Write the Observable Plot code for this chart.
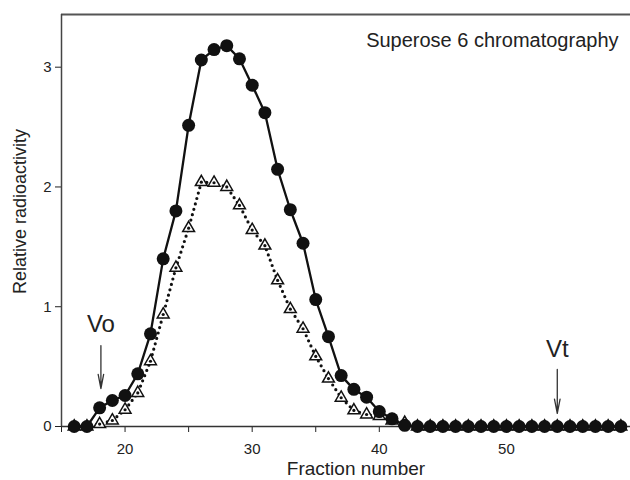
<!DOCTYPE html>
<html>
<head>
<meta charset="utf-8">
<script src="https://cdn.jsdelivr.net/npm/d3@7"></script>
<script src="https://cdn.jsdelivr.net/npm/@observablehq/plot@0.6"></script>
<style>
  html, body { margin: 0; padding: 0; background: #fff; }
  #chart { width: 630px; height: 480px; }
</style>
</head>
<body>
<div id="chart"></div>
<script>
// Fraction numbers
const fractions = [16,17,18,19,20,21,22,23,24,25,26,27,28,29,30,31,32,33,34,35,36,37,38,39,40,41,42,43,44,45,46,47,48,49,50,51,52,53,54,55,56,57,58,59];
// Filled circles (solid line)
const circleValues = [0,0,0.156,0.217,0.259,0.44,0.774,1.40,1.80,2.515,3.06,3.147,3.18,3.07,2.85,2.62,2.147,1.81,1.53,1.06,0.75,0.425,0.31,0.245,0.125,0.064,0.01,0,0,0,0,0,0,0,0,0,0,0,0,0,0,0,0,0];
// Open triangles (dotted line)
const triangleValues = [0,0,0.02,0.05,0.14,0.28,0.545,0.935,1.325,1.656,2.04,2.035,2.0,1.846,1.64,1.51,1.22,0.98,0.816,0.585,0.40,0.24,0.134,0.10,0.086,0.05,0.03,0,0,0,0,0,0,0,0,0,0,0,0,0,0,0,0,0];
// Axis ticks
const xTicks = [15,20,25,30,35,40,45,50,55];
const xTickLabels = ["", "20", "", "30", "", "40", "", "50", ""];
const yTicks = [0,1,2,3];
const yTickLabels = ["0", "1", "2", "3"];
// Annotations: volume markers
const markerLabels = ["Vo", "Vt"];
const markerFractions = [18.1, 54];
const markerTextY = [0.85, 0.647];
const markerArrowTop = [0.676, 0.476];
const markerArrowBottom = [0.317, 0.109];
const titleText = "Superose 6 chromatography";
const xLabel = "Fraction number";
const yLabel = "Relative radioactivity";

const circles = fractions.map((f, i) => ({x: f, y: circleValues[i]}));
const triangles = fractions.map((f, i) => ({x: f, y: triangleValues[i]}));
const markers = markerLabels.map((t, i) => ({
  label: t, x: markerFractions[i], ty: markerTextY[i], y1: markerArrowTop[i], y2: markerArrowBottom[i]
}));

const font = "Liberation Sans, Arial, Helvetica, sans-serif";

const chart = Plot.plot({
  width: 630,
  height: 480,
  marginLeft: 61,
  marginRight: 0,
  marginTop: 14,
  marginBottom: 54,
  style: {fontFamily: font, fontSize: "15px", color: "#222", background: "#fff"},
  x: {
    domain: [15, 59.76],
    ticks: xTicks,
    tickFormat: d => xTickLabels[xTicks.indexOf(d)],
    tickSize: 6,
    tickPadding: 11,
    label: null
  },
  y: {
    domain: [0, 3.44],
    ticks: yTicks,
    tickFormat: d => yTickLabels[yTicks.indexOf(d)],
    tickSize: 6,
    tickPadding: 4,
    label: null
  },
  marks: [
    Plot.ruleY([3.44], {stroke: "#555", strokeWidth: 2}),
    Plot.ruleX([15], {stroke: "#444", strokeWidth: 1.5}),
    Plot.ruleY([0], {stroke: "#333", strokeWidth: 1.5}),
    // triangles series
    Plot.line(triangles, {x: "x", y: "y", stroke: "#111", strokeWidth: 3.2, strokeDasharray: "0,5.6", strokeLinecap: "round"}),
    Plot.dot(triangles, {x: "x", y: "y", symbol: "triangle", r: 4.4, fill: "white", stroke: "#111", strokeWidth: 1.5}),
    Plot.dot(triangles, {x: "x", y: "y", r: 1.6, fill: "#111", stroke: null}),
    // circles series
    Plot.line(circles, {x: "x", y: "y", stroke: "#111", strokeWidth: 2.3}),
    Plot.dot(circles, {x: "x", y: "y", r: 6.5, fill: "#111", stroke: null}),
    // markers
    Plot.arrow(markers, {x1: "x", x2: "x", y1: "y1", y2: "y2", stroke: "#333", strokeWidth: 1.3, headLength: 20, headAngle: 22}),
    Plot.text(markers, {x: "x", y: "ty", text: "label", fontSize: 24, fill: "#222"}),
    // title
    Plot.text([titleText], {frameAnchor: "top-right", textAnchor: "end", lineAnchor: "middle", dx: -12, dy: 26, fontSize: 20, fill: "#222"}),
    // axis labels
    Plot.text([xLabel], {frameAnchor: "bottom", textAnchor: "middle", lineAnchor: "middle", dx: 10, dy: 42, fontSize: 19, fill: "#222"}),
    Plot.text([yLabel], {frameAnchor: "left", textAnchor: "middle", lineAnchor: "middle", rotate: -90, dx: -41, dy: -9, fontSize: 18, fill: "#222"})
  ]
});
document.getElementById("chart").appendChild(chart);
</script>
</body>
</html>
